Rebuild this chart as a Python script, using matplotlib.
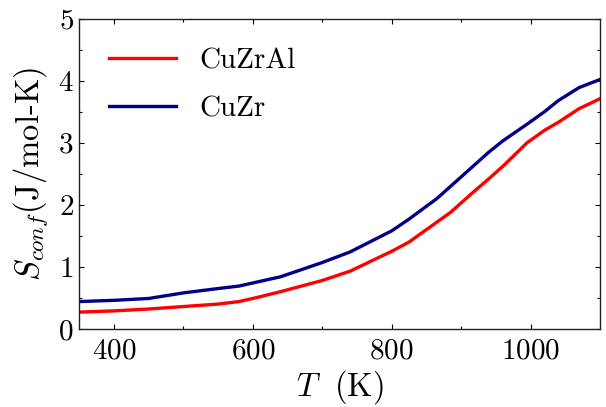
import numpy as np
import matplotlib
matplotlib.use("Agg")
import matplotlib.pyplot as plt

plt.rcParams['font.family'] = 'serif'
plt.rcParams['font.serif'] = ['cmr10']
plt.rcParams['mathtext.fontset'] = 'cm'
plt.rcParams['axes.formatter.use_mathtext'] = True
plt.rcParams['axes.unicode_minus'] = False

# configurational entropy vs temperature
T = [350, 400, 450, 500, 550, 580, 600, 640, 700, 740, 800, 825, 865, 885, 915, 940, 960, 995, 1020, 1040, 1070, 1100]
S_CuZrAl = [0.27, 0.29, 0.32, 0.36, 0.40, 0.44, 0.49, 0.60, 0.78, 0.93, 1.25, 1.40, 1.72, 1.88, 2.18, 2.42, 2.62, 3.00, 3.20, 3.33, 3.55, 3.71]
S_CuZr = [0.44, 0.46, 0.49, 0.58, 0.65, 0.69, 0.74, 0.84, 1.07, 1.24, 1.58, 1.77, 2.10, 2.30, 2.60, 2.85, 3.03, 3.30, 3.50, 3.68, 3.89, 4.02]

fig = plt.figure(figsize=(6.06, 4.07), dpi=100)
ax = fig.add_axes([0.131, 0.192, 0.859, 0.762])

ax.plot(T, S_CuZrAl, color='#ff0000', lw=2.4, label='CuZrAl')
ax.plot(T, S_CuZr, color='#00008b', lw=2.4, label='CuZr')

ax.set_xlim(350, 1100)
ax.set_ylim(0, 5)
ax.set_xticks([400, 600, 800, 1000])
ax.set_xticks(np.arange(500, 1100, 200), minor=True)
ax.set_yticks([0, 1, 2, 3, 4, 5])
ax.set_yticks(np.arange(0.5, 5, 1.0), minor=True)

ax.tick_params(which='both', direction='in', top=True, right=True, labelsize=21)
ax.tick_params(which='major', length=3.6, width=0.8)
ax.tick_params(which='minor', length=2.2, width=0.8)
ax.tick_params(axis='x', pad=7)
ax.tick_params(axis='y', pad=4)
for s in ax.spines.values():
    s.set_linewidth(1.0)
    s.set_color('#222222')

ax.set_xlabel(r'$T\ \ \mathrm{(K)}$', fontsize=23.5, labelpad=2)
ax.set_ylabel(r'$S_{conf}$(J/mol-K)', fontsize=23.5, labelpad=6)

ax.legend(loc='upper left', frameon=False, fontsize=21, handlelength=2.3,
          handletextpad=0.8, labelspacing=0.75, borderaxespad=0.6)

fig.savefig('out.png', dpi=100)
